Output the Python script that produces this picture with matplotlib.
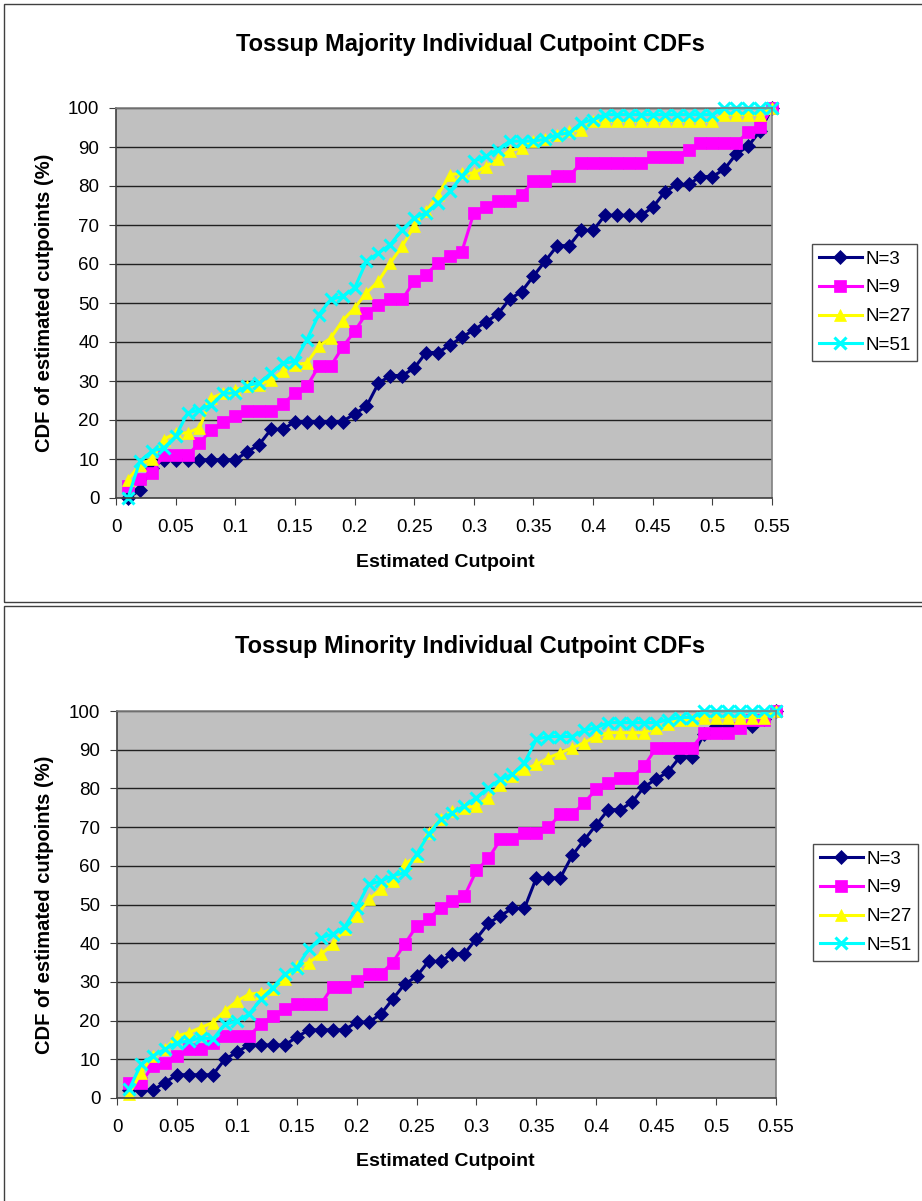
import numpy as np
import matplotlib
matplotlib.use("Agg")
import matplotlib.pyplot as plt
from matplotlib.patches import Rectangle

plt.rcParams['font.family'] = ['Liberation Sans', 'DejaVu Sans']

# estimated cutpoint grid (0.01 .. 0.55)
cutpoints = [round(0.01 * i, 2) for i in range(1, 56)]

# ---- Tossup Majority ----
maj_n3 = [0, 2, 7.8, 9.8, 9.8, 9.8, 9.8, 9.8, 9.8, 9.8,
          11.8, 13.7, 17.6, 17.6, 19.6, 19.6, 19.6, 19.6, 19.6, 21.6,
          23.5, 29.4, 31.4, 31.4, 33.3, 37.3, 37.3, 39.2, 41.2, 43.1,
          45.1, 47.1, 51.0, 52.9, 56.9, 60.8, 64.7, 64.7, 68.6, 68.6,
          72.5, 72.5, 72.5, 72.5, 74.5, 78.4, 80.4, 80.4, 82.4, 82.4,
          84.3, 88.2, 90.2, 94.1, 100]
maj_n9 = [3, 5, 6.5, 11, 11, 11, 14.1, 17.5, 19.4, 21,
          22.2, 22.2, 22.2, 24, 27, 28.6, 33.8, 33.8, 38.7, 42.7,
          47.4, 49.6, 50.9, 50.9, 55.6, 57.3, 60.3, 62, 63.2, 73.1,
          74.6, 76.1, 76.1, 77.8, 81.2, 81.2, 82.5, 82.5, 85.9, 85.9,
          85.9, 85.9, 85.9, 85.9, 87.4, 87.4, 87.4, 89.3, 91, 91,
          91, 91, 93.8, 95.1, 100]
maj_n27 = [4.7, 8.5, 10, 15, 16.7, 16.7, 18, 25.6, 26.9, 27.8,
           28.6, 29.1, 30.3, 32.5, 34.2, 34.6, 38.9, 41, 45.5, 48.7,
           52.6, 55.6, 60.3, 64.6, 69.7, 73.5, 77.8, 82.9, 83.3, 83.3,
           85, 86.8, 89.1, 89.7, 91.5, 92, 93.2, 94, 94.4, 96.6,
           96.6, 96.6, 96.6, 96.6, 96.6, 96.6, 96.6, 96.6, 96.6, 96.6,
           98.3, 98.3, 98.3, 98.3, 100]
maj_n51 = [0, 9.4, 12, 12.8, 15.8, 21.8, 22.6, 23.9, 26.9, 26.9,
           28.8, 29.5, 32, 34.6, 35, 40.6, 47, 50.9, 51.7, 53.8,
           60.7, 62.8, 65, 68.8, 71.8, 73.1, 75.6, 78.6, 82.5, 86.3,
           87.6, 89.3, 91.5, 91.5, 91.5, 92, 93.2, 93.6, 96.2, 97,
           98.3, 98.3, 98.3, 98.3, 98.3, 98.3, 98.3, 98.3, 98.3, 98.3,
           100, 100, 100, 100, 100]

# ---- Tossup Minority ----
min_n3 = [2, 2, 2, 4, 6, 6, 6, 6, 10, 11.8,
          13.7, 13.7, 13.7, 13.7, 15.7, 17.6, 17.6, 17.6, 17.6, 19.6,
          19.6, 21.6, 25.5, 29.4, 31.4, 35.3, 35.3, 37.3, 37.3, 41.2,
          45.1, 47.1, 49, 49, 56.9, 56.9, 56.9, 62.7, 66.7, 70.6,
          74.5, 74.5, 76.5, 80.4, 82.4, 84.3, 88.2, 88.2, 94.1, 96.1,
          96.1, 96.1, 96.1, 98, 100]
min_n9 = [3.9, 3.9, 8.3, 9.1, 10.9, 12.6, 12.6, 14.3, 16, 16,
          16, 19, 21.2, 22.9, 24.2, 24.2, 24.2, 28.8, 28.8, 30.2,
          32, 32, 35, 39.7, 44.4, 46.2, 49.2, 50.9, 52.2, 58.8,
          61.9, 66.8, 66.8, 68.6, 68.6, 69.9, 73.3, 73.3, 76.3, 79.8,
          81.5, 82.8, 82.8, 85.8, 90.5, 90.5, 90.5, 90.5, 94.4, 94.4,
          94.4, 95.7, 97.8, 97.8, 100]
min_n27 = [1, 6.5, 10.9, 12.6, 16, 16.9, 18.2, 19.5, 22.5, 25,
           26.8, 27.2, 28.1, 30.7, 34.1, 35, 37.1, 39.7, 43.6, 47,
           51.3, 53.9, 56, 60.4, 62.5, 68.6, 72, 74.2, 75, 75.5,
           77.6, 81, 83.2, 84.9, 86.2, 87.9, 89.2, 90.5, 91.8, 93.5,
           94.4, 94.4, 94.4, 94.4, 95.7, 96.6, 97.8, 97.8, 98.3, 98.3,
           98.3, 98.3, 98.3, 98.3, 100]
min_n51 = [2.2, 8.7, 10.9, 12.6, 14.3, 14.7, 15.6, 15.2, 19, 19.9,
           21.6, 25.5, 28.5, 32, 33.7, 38.4, 41.4, 42.3, 44.2, 49.2,
           55.2, 56, 57.4, 58.2, 63, 68.1, 72, 73.7, 75.5, 77.6,
           80.2, 82.3, 83.6, 86.6, 92.7, 93.4, 93.4, 93.4, 95, 95.7,
           97, 97, 97, 97, 97, 97.8, 98.3, 98.3, 100, 100,
           100, 100, 100, 100, 100]

labels = ['N=3', 'N=9', 'N=27', 'N=51']
colors = ['#000080', '#FF00FF', '#FFFF00', '#00FFFF']
markers = ['D', 's', '^', 'x']
msizes = [7.5, 8.5, 9, 8]

W, H = 922, 1201
fig = plt.figure(figsize=(W / 100, H / 100), dpi=100)

# chart borders (two stacked Excel charts)
fig.add_artist(Rectangle((4 / W, 1 - 602 / H), 930 / W, 598 / H, transform=fig.transFigure,
                         fill=False, ec='#404040', lw=1))
fig.add_artist(Rectangle((4 / W, 1 - 1210 / H), 930 / W, 604 / H, transform=fig.transFigure,
                         fill=False, ec='#404040', lw=1))


def cdf_panel(box, title, series, title_y, xlab_y, leg_box):
    l, t, r, b = box
    ax = fig.add_axes([l / W, 1 - b / H, (r - l) / W, (b - t) / H])
    ax.set_facecolor('#C0C0C0')
    for vals, lab, c, m, ms in zip(series, labels, colors, markers, msizes):
        ax.plot(cutpoints, vals, color=c, marker=m, markersize=ms, lw=2.2,
                mew=2.2 if m == 'x' else 0.5, mec=c, mfc=c, label=lab, clip_on=False)
    ax.set_xlim(0, 0.55)
    ax.set_ylim(0, 100)
    ax.set_xticks(np.arange(0, 0.551, 0.05))
    ax.set_xticklabels(['0', '0.05', '0.1', '0.15', '0.2', '0.25', '0.3', '0.35',
                        '0.4', '0.45', '0.5', '0.55'])
    ax.set_yticks(range(0, 101, 10))
    ax.yaxis.grid(True, color='#202020', lw=1)
    ax.set_axisbelow(True)
    ax.tick_params(labelsize=13.5, length=5, color='#404040')
    ax.tick_params(axis='x', pad=10)
    ax.tick_params(axis='y', pad=7)
    for s in ['top', 'right']:
        ax.spines[s].set_color('#808080')
    for s in ['left', 'bottom']:
        ax.spines[s].set_color('#404040')
    for s in ax.spines.values():
        s.set_linewidth(1.2)
    fig.text(470 / W, 1 - title_y / H, title, ha='center', va='center',
             fontsize=17, fontweight='bold')
    fig.text(445 / W, 1 - xlab_y / H, 'Estimated Cutpoint', ha='center', va='center',
             fontsize=14, fontweight='bold')
    fig.text(45 / W, 1 - (t + b) / 2 / H, 'CDF of estimated cutpoints (%)', ha='center',
             va='center', rotation=90, fontsize=14.5, fontweight='bold')
    leg = fig.legend(*ax.get_legend_handles_labels(), loc='upper left',
                     bbox_to_anchor=(leg_box[0] / W, 1 - leg_box[1] / H),
                     fontsize=13.5, frameon=True, fancybox=False, edgecolor='#202020',
                     handlelength=2.3, handletextpad=0.2, labelspacing=0.62,
                     borderpad=0.35, borderaxespad=0)
    leg.get_frame().set_linewidth(1)
    return ax


cdf_panel((116, 108, 772, 498), 'Tossup Majority Individual Cutpoint CDFs',
          [maj_n3, maj_n9, maj_n27, maj_n51], 45, 562, (812, 244))
cdf_panel((117, 711, 776, 1098), 'Tossup Minority Individual Cutpoint CDFs',
          [min_n3, min_n9, min_n27, min_n51], 647, 1162, (813, 844))

fig.savefig('out.png', dpi=100)
